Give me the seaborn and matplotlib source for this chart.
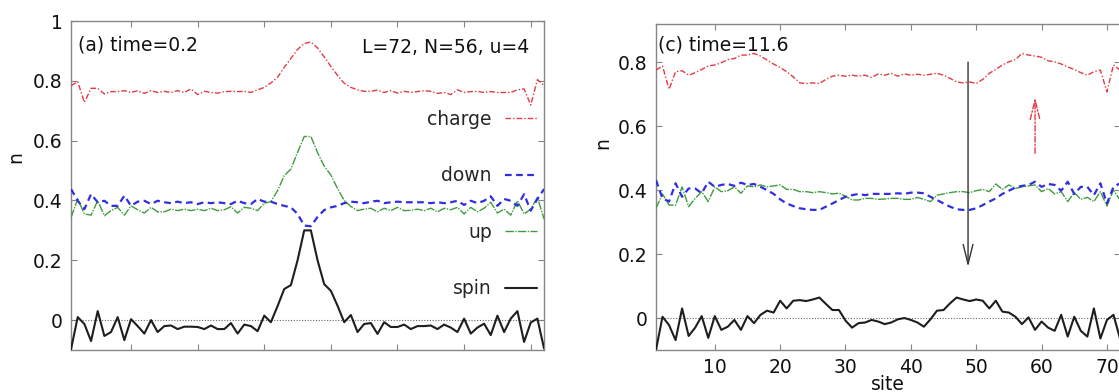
import matplotlib
matplotlib.use("Agg")
import matplotlib.pyplot as plt
import seaborn as sns

# ---------------------------------------------------------------- data
site = list(range(1, 73))

# panel (a): time = 0.2
charge_a = [0.784, 0.797, 0.728, 0.775, 0.775, 0.756, 0.764, 0.764, 0.767, 0.761,
            0.767, 0.758, 0.767, 0.761, 0.765, 0.761, 0.767, 0.761, 0.773, 0.754,
            0.765, 0.761, 0.759, 0.764, 0.765, 0.764, 0.765, 0.761, 0.770, 0.778,
            0.793, 0.812, 0.845, 0.875, 0.905, 0.925, 0.930, 0.910, 0.880, 0.848,
            0.818, 0.792, 0.778, 0.770, 0.765, 0.765, 0.769, 0.761, 0.767, 0.759,
            0.765, 0.761, 0.764, 0.767, 0.765, 0.758, 0.761, 0.754, 0.770, 0.761,
            0.764, 0.765, 0.761, 0.764, 0.761, 0.761, 0.761, 0.770, 0.773, 0.719,
            0.804, 0.784]
down_a = [0.438, 0.399, 0.371, 0.421, 0.394, 0.399, 0.382, 0.382, 0.416, 0.382,
          0.396, 0.399, 0.388, 0.399, 0.394, 0.391, 0.396, 0.391, 0.394, 0.388,
          0.394, 0.391, 0.394, 0.391, 0.388, 0.399, 0.391, 0.388, 0.405, 0.396,
          0.396, 0.388, 0.382, 0.377, 0.355, 0.316, 0.314, 0.345, 0.368, 0.377,
          0.382, 0.391, 0.396, 0.394, 0.391, 0.396, 0.399, 0.391, 0.394, 0.396,
          0.394, 0.394, 0.394, 0.394, 0.391, 0.394, 0.391, 0.394, 0.399, 0.385,
          0.399, 0.391, 0.399, 0.414, 0.382, 0.405, 0.399, 0.382, 0.421, 0.366,
          0.405, 0.438]
up_a = [0.343, 0.405, 0.355, 0.351, 0.399, 0.349, 0.366, 0.377, 0.351, 0.382,
        0.369, 0.358, 0.377, 0.362, 0.362, 0.371, 0.366, 0.371, 0.366, 0.371,
        0.366, 0.374, 0.366, 0.369, 0.379, 0.358, 0.377, 0.374, 0.366, 0.391,
        0.396, 0.433, 0.483, 0.505, 0.561, 0.614, 0.614, 0.560, 0.515, 0.485,
        0.440, 0.400, 0.380, 0.366, 0.371, 0.374, 0.362, 0.374, 0.366, 0.377,
        0.366, 0.367, 0.371, 0.366, 0.374, 0.362, 0.374, 0.369, 0.377, 0.355,
        0.377, 0.362, 0.374, 0.394, 0.358, 0.371, 0.351, 0.399, 0.355, 0.371,
        0.410, 0.338]
spin_a = [-0.097, 0.010, -0.013, -0.070, 0.030, -0.053, -0.040, 0.010, -0.067, 0.003,
          -0.020, -0.045, 0.000, -0.040, -0.020, -0.018, -0.030, -0.022, -0.022, -0.023,
          -0.030, -0.018, -0.030, -0.030, -0.010, -0.045, -0.015, -0.020, -0.037, 0.015,
          -0.007, 0.047, 0.104, 0.117, 0.200, 0.300, 0.300, 0.200, 0.120, 0.098,
          0.048, -0.007, 0.017, -0.040, -0.013, -0.010, -0.046, -0.007, -0.023, -0.023,
          -0.015, -0.030, -0.020, -0.020, -0.018, -0.030, -0.015, -0.025, -0.040, 0.005,
          -0.045, -0.025, -0.012, -0.050, 0.015, -0.040, 0.005, 0.030, -0.073, -0.008,
          0.005, -0.095]

# panel (c): time = 11.6
charge_c = [0.775, 0.788, 0.715, 0.770, 0.773, 0.759, 0.767, 0.777, 0.788, 0.791,
            0.798, 0.808, 0.811, 0.822, 0.822, 0.827, 0.819, 0.806, 0.794, 0.783,
            0.770, 0.754, 0.735, 0.733, 0.735, 0.733, 0.746, 0.756, 0.759, 0.756,
            0.759, 0.756, 0.759, 0.752, 0.763, 0.759, 0.765, 0.756, 0.763, 0.759,
            0.762, 0.759, 0.762, 0.765, 0.759, 0.749, 0.738, 0.735, 0.738, 0.733,
            0.746, 0.765, 0.777, 0.791, 0.801, 0.808, 0.827, 0.822, 0.819, 0.815,
            0.804, 0.801, 0.794, 0.785, 0.777, 0.767, 0.759, 0.770, 0.775, 0.707,
            0.791, 0.775]
down_c = [0.431, 0.374, 0.364, 0.421, 0.379, 0.405, 0.405, 0.390, 0.426, 0.410,
          0.416, 0.419, 0.413, 0.423, 0.416, 0.419, 0.410, 0.400, 0.388, 0.371,
          0.358, 0.350, 0.343, 0.340, 0.338, 0.338, 0.348, 0.358, 0.369, 0.379,
          0.384, 0.388, 0.384, 0.388, 0.388, 0.388, 0.388, 0.390, 0.388, 0.392,
          0.392, 0.390, 0.379, 0.369, 0.358, 0.348, 0.340, 0.338, 0.338, 0.343,
          0.353, 0.364, 0.374, 0.388, 0.398, 0.408, 0.413, 0.416, 0.426, 0.410,
          0.419, 0.416, 0.398, 0.426, 0.388, 0.410, 0.410, 0.384, 0.421, 0.358,
          0.410, 0.421]
up_c = [0.343, 0.388, 0.353, 0.353, 0.410, 0.348, 0.374, 0.395, 0.364, 0.410,
        0.395, 0.398, 0.410, 0.390, 0.413, 0.410, 0.416, 0.410, 0.413, 0.416,
        0.402, 0.402, 0.395, 0.395, 0.392, 0.395, 0.392, 0.388, 0.390, 0.381,
        0.369, 0.369, 0.374, 0.374, 0.371, 0.372, 0.374, 0.374, 0.371, 0.371,
        0.377, 0.371, 0.364, 0.384, 0.388, 0.392, 0.395, 0.395, 0.392, 0.398,
        0.402, 0.395, 0.419, 0.402, 0.416, 0.405, 0.410, 0.413, 0.416, 0.395,
        0.405, 0.388, 0.395, 0.364, 0.392, 0.371, 0.377, 0.364, 0.395, 0.350,
        0.400, 0.369]
spin_c = [-0.100, 0.004, -0.022, -0.069, 0.030, -0.056, -0.030, 0.006, -0.062, 0.006,
          -0.037, -0.027, -0.006, -0.037, 0.006, -0.016, 0.010, 0.023, 0.017, 0.054,
          0.030, 0.054, 0.056, 0.053, 0.058, 0.064, 0.044, 0.025, 0.025, -0.008,
          -0.030, -0.016, -0.014, -0.006, -0.011, -0.019, -0.014, -0.004, 0.000, -0.006,
          -0.014, -0.027, -0.004, 0.023, 0.025, 0.046, 0.064, 0.058, 0.053, 0.058,
          0.054, 0.030, 0.054, 0.020, 0.017, 0.004, -0.019, 0.002, -0.037, -0.011,
          -0.030, -0.040, 0.010, -0.058, 0.004, -0.040, -0.058, 0.030, -0.064, -0.006,
          0.010, -0.064]

series_names = ["charge", "down", "up", "spin"]
x_ticks = [10, 20, 30, 40, 50, 60, 70]
x_tick_labels = ["10", "20", "30", "40", "50", "60", "70"]
y_ticks_a = [0, 0.2, 0.4, 0.6, 0.8, 1.0]
y_tick_labels_a = ["0", "0.2", "0.4", "0.6", "0.8", "1"]
y_ticks_c = [0, 0.2, 0.4, 0.6, 0.8]
y_tick_labels_c = ["0", "0.2", "0.4", "0.6", "0.8"]

# annotation arrows in panel (c): (site, n_from, n_to)
spin_arrow = (48.75, 0.80, 0.16)
charge_arrow = (59.0, 0.515, 0.69)

# ---------------------------------------------------------------- style
sns.set_style("ticks")
plt.rcParams["font.family"] = ["DejaVu Sans"]
plt.rcParams["font.size"] = 13.5

RED = "#e23a44"
BLUE = "#2f2fe0"
GREEN = "#3e9c3e"
BLACK = "#1e1e1e"
AXIS = "#858585"

line_styles = {
    "charge": dict(color=RED, linewidth=1.0, linestyle=(0, (4, 1.5, 1, 1.5))),
    "down": dict(color=BLUE, linewidth=1.6, linestyle=(0, (3, 2))),
    "up": dict(color=GREEN, linewidth=1.0, linestyle=(0, (6, 1, 1, 1))),
    "spin": dict(color=BLACK, linewidth=1.5, linestyle="-"),
}

fig = plt.figure(figsize=(11.19, 3.92), dpi=100)
ax_a = fig.add_axes([0.0635, 0.1071, 0.4227, 0.8393])
ax_c = fig.add_axes([0.5862, 0.1071, 0.4147, 0.8316])


def draw_panel(ax, values, y_ticks, y_labels, y_top, with_legend):
    ax.axhline(0, color="#666666", linestyle=(0, (1, 1.5)), linewidth=0.8, zorder=1)
    for name in ["spin", "up", "down", "charge"]:
        sns.lineplot(x=site, y=values[name], ax=ax,
                     label=name if with_legend else None,
                     legend=False, zorder=3, **line_styles[name])
    ax.set_xlim(1, 72)
    ax.set_ylim(-0.1, y_top)
    ax.set_yticks(y_ticks)
    ax.set_yticklabels(y_labels)
    ax.set_xticks(x_ticks)
    for sp in ax.spines.values():
        sp.set_visible(True)
        sp.set_color(AXIS)
        sp.set_linewidth(1.0)
    ax.tick_params(direction="in", length=4, width=0.8, color=AXIS,
                   top=True, right=True, pad=6, labelcolor="#111111")
    ax.set_ylabel("n", color="#111111")


draw_panel(ax_a, dict(charge=charge_a, down=down_a, up=up_a, spin=spin_a),
           y_ticks_a, y_tick_labels_a, 1.0, True)
draw_panel(ax_c, dict(charge=charge_c, down=down_c, up=up_c, spin=spin_c),
           y_ticks_c, y_tick_labels_c, 0.919, False)

ax_a.set_xticklabels([])
ax_c.set_xticklabels(x_tick_labels)
ax_c.set_xlabel("site", color="#111111", labelpad=-2)

ax_a.yaxis.set_label_coords(-0.097, 0.587)
ax_c.yaxis.set_label_coords(-0.095, 0.635)

# legend: label text on the left, line sample on the right
handles, labels = ax_a.get_legend_handles_labels()
order = [labels.index(n) for n in series_names]
ax_a.legend([handles[i] for i in order], [labels[i] for i in order],
            loc="upper right", bbox_to_anchor=(0.985, 0.73),
            markerfirst=False, frameon=False, borderaxespad=0, borderpad=0,
            labelspacing=2.0, handlelength=1.7, handletextpad=0.7)

ax_a.text(0.015, 0.927, "(a) time=0.2", transform=ax_a.transAxes,
          ha="left", va="center", color="#111111")
ax_a.text(0.968, 0.921, "L=72, N=56, u=4", transform=ax_a.transAxes,
          ha="right", va="center", color="#111111")
ax_c.text(0.004, 0.936, "(c) time=11.6", transform=ax_c.transAxes,
          ha="left", va="center", color="#111111")

sx, s0, s1 = spin_arrow
ax_c.annotate("", xy=(sx, s1), xytext=(sx, s0),
              arrowprops=dict(arrowstyle="->,head_length=1.0,head_width=0.25",
                              color="#333333", lw=1.0, shrinkA=0, shrinkB=0,
                              mutation_scale=14))
cx, c0, c1 = charge_arrow
ax_c.annotate("", xy=(cx, c1), xytext=(cx, c0),
              arrowprops=dict(arrowstyle="->,head_length=1.0,head_width=0.25",
                              color=RED, lw=1.0, shrinkA=0, shrinkB=0,
                              linestyle=(0, (4, 1.5, 1, 1.5)),
                              mutation_scale=14))

fig.savefig("out.png", dpi=100)
